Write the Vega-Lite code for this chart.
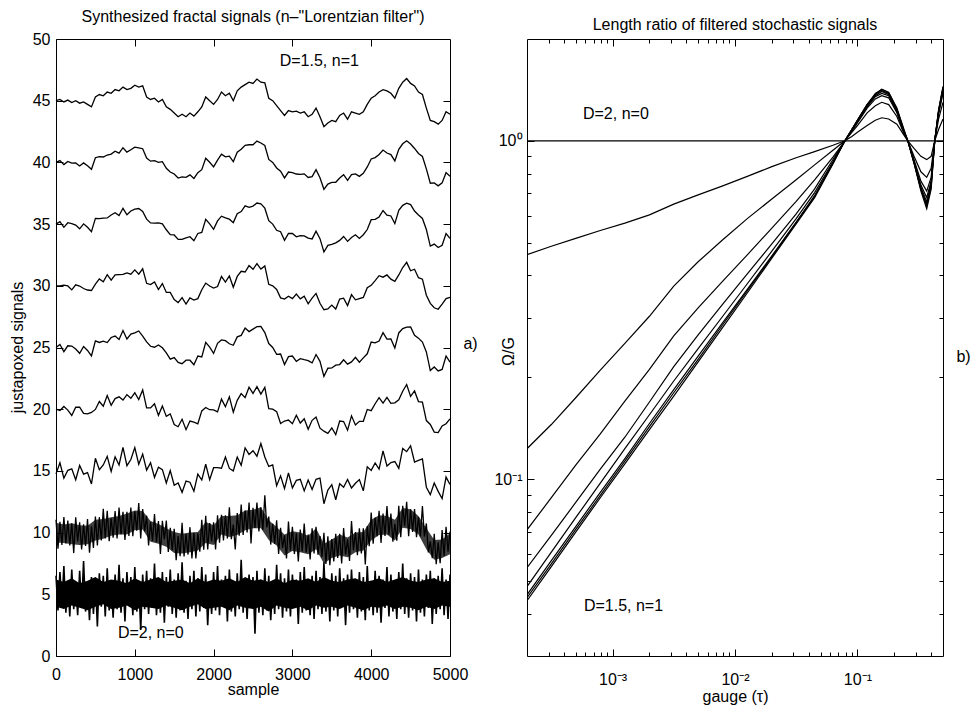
{
"$schema":"https://vega.github.io/schema/vega-lite/v6.json",
"background":"white",
"padding":{"left":8,"top":8,"right":2,"bottom":2},
"spacing":15,
"config":{
 "font":"Liberation Sans",
 "view":{"stroke":"#000","strokeWidth":1},
 "axis":{"domain":false,"grid":false,"tickColor":"#000","tickWidth":1,"labelColor":"#000","titleColor":"#000","labelFont":"Liberation Sans","titleFont":"Liberation Sans","labelFontSize":16,"titleFontSize":16,"titleFontWeight":"normal","labelFlush":false,"labelOverlap":false,"labelBound":false},
 "title":{"font":"Liberation Sans","fontSize":16,"fontWeight":"normal","color":"#000"},
 "text":{"font":"Liberation Sans","fontSize":16,"color":"#000"}
},
"datasets":{
"sig":[
{"x":0,"s45":45.0,"s40":40.0,"s35":35.0,"s30":30.0,"s25":25.0,"s20":20.0,"s15":14.76},
{"x":50,"s45":45.1,"s40":40.15,"s35":35.2,"s30":30.0,"s25":25.25,"s20":19.9,"s15":15.66},
{"x":100,"s45":44.9,"s40":39.82,"s35":34.74,"s30":30.06,"s25":24.66,"s20":20.22,"s15":14.42},
{"x":150,"s45":45.05,"s40":40.08,"s35":35.11,"s30":29.99,"s25":25.14,"s20":19.93,"s15":15.05},
{"x":200,"s45":44.85,"s40":39.94,"s35":35.03,"s30":29.67,"s25":25.12,"s20":19.49,"s15":15.17},
{"x":250,"s45":45.0,"s40":39.96,"s35":34.92,"s30":30.08,"s25":24.88,"s20":20.16,"s15":14.28},
{"x":300,"s45":44.8,"s40":39.71,"s35":34.62,"s30":29.98,"s25":24.53,"s20":20.16,"s15":15.44},
{"x":350,"s45":44.9,"s40":39.96,"s35":35.02,"s30":29.78,"s25":25.08,"s20":19.66,"s15":14.74},
{"x":400,"s45":44.7,"s40":39.72,"s35":34.74,"s30":29.66,"s25":24.76,"s20":19.62,"s15":14.86},
{"x":450,"s45":44.5,"s40":39.44,"s35":34.38,"s30":29.62,"s25":24.32,"s20":19.74,"s15":13.94},
{"x":500,"s45":45.3,"s40":40.38,"s35":35.46,"s30":30.14,"s25":25.54,"s20":19.98,"s15":16.02},
{"x":550,"s45":45.5,"s40":40.47,"s35":35.44,"s30":30.56,"s25":25.41,"s20":20.62,"s15":15.1},
{"x":600,"s45":45.4,"s40":40.44,"s35":35.48,"s30":30.32,"s25":25.52,"s20":20.24,"s15":15.48},
{"x":650,"s45":45.7,"s40":40.6,"s35":35.5,"s30":30.9,"s25":25.4,"s20":21.1,"s15":16.18},
{"x":700,"s45":45.6,"s40":40.67,"s35":35.74,"s30":30.46,"s25":25.81,"s20":20.32,"s15":14.96},
{"x":750,"s45":45.9,"s40":40.91,"s35":35.92,"s30":30.88,"s25":25.93,"s20":20.86,"s15":16.14},
{"x":800,"s45":45.8,"s40":40.75,"s35":35.7,"s30":30.9,"s25":25.65,"s20":21.0,"s15":15.48},
{"x":850,"s45":46.1,"s40":41.19,"s35":36.28,"s30":30.92,"s25":26.37,"s20":20.74,"s15":16.9},
{"x":900,"s45":45.9,"s40":40.83,"s35":35.76,"s30":31.04,"s25":25.69,"s20":21.18,"s15":15.42},
{"x":950,"s45":46.0,"s40":41.03,"s35":36.06,"s30":30.94,"s25":26.09,"s20":20.88,"s15":15.92},
{"x":1000,"s45":46.25,"s40":41.23,"s35":36.21,"s30":31.29,"s25":26.19,"s20":21.33,"s15":16.89},
{"x":1050,"s45":46.1,"s40":41.18,"s35":36.26,"s30":30.94,"s25":26.34,"s20":20.78,"s15":15.54},
{"x":1100,"s45":46.2,"s40":41.11,"s35":36.02,"s30":31.38,"s25":25.93,"s20":21.56,"s15":16.36},
{"x":1150,"s45":45.3,"s40":40.35,"s35":35.4,"s30":30.2,"s25":25.45,"s20":20.1,"s15":15.06},
{"x":1200,"s45":45.1,"s40":40.1,"s35":35.1,"s30":30.1,"s25":25.1,"s20":20.1,"s15":15.66},
{"x":1250,"s45":45.2,"s40":40.14,"s35":35.08,"s30":30.32,"s25":25.02,"s20":20.44,"s15":14.48},
{"x":1300,"s45":44.9,"s40":40.0,"s35":35.1,"s30":29.7,"s25":25.2,"s20":19.5,"s15":15.3},
{"x":1350,"s45":45.1,"s40":40.06,"s35":35.02,"s30":30.18,"s25":24.98,"s20":20.26,"s15":15.1},
{"x":1400,"s45":44.5,"s40":39.52,"s35":34.54,"s30":29.46,"s25":24.56,"s20":19.42,"s15":14.02},
{"x":1450,"s45":44.3,"s40":39.22,"s35":34.14,"s30":29.46,"s25":24.06,"s20":19.62,"s15":15.02},
{"x":1500,"s45":44.0,"s40":39.06,"s35":34.12,"s30":28.88,"s25":24.18,"s20":18.76,"s15":13.84},
{"x":1550,"s45":43.7,"s40":38.73,"s35":33.76,"s30":28.64,"s25":23.79,"s20":18.58,"s15":14.02},
{"x":1600,"s45":43.9,"s40":38.83,"s35":33.76,"s30":29.04,"s25":23.69,"s20":19.18,"s15":13.26},
{"x":1650,"s45":43.7,"s40":38.79,"s35":33.88,"s30":28.52,"s25":23.97,"s20":18.34,"s15":14.18},
{"x":1700,"s45":44.0,"s40":38.99,"s35":33.98,"s30":29.02,"s25":23.97,"s20":19.04,"s15":14.08},
{"x":1750,"s45":43.75,"s40":38.7,"s35":33.65,"s30":28.85,"s25":23.6,"s20":18.95,"s15":13.35},
{"x":1800,"s45":44.1,"s40":39.17,"s35":34.24,"s30":28.96,"s25":24.31,"s20":18.82,"s15":14.74},
{"x":1850,"s45":44.5,"s40":39.41,"s35":34.32,"s30":29.68,"s25":24.23,"s20":19.86,"s15":14.26},
{"x":1900,"s45":45.3,"s40":40.34,"s35":35.38,"s30":30.22,"s25":25.42,"s20":20.14,"s15":15.54},
{"x":1950,"s45":45.0,"s40":40.01,"s35":35.02,"s30":29.98,"s25":25.03,"s20":19.96,"s15":14.28},
{"x":2000,"s45":44.7,"s40":39.64,"s35":34.58,"s30":29.82,"s25":24.52,"s20":19.94,"s15":15.26},
{"x":2050,"s45":45.1,"s40":40.18,"s35":35.26,"s30":29.94,"s25":25.34,"s20":19.78,"s15":15.26},
{"x":2100,"s45":45.7,"s40":40.67,"s35":35.64,"s30":30.76,"s25":25.61,"s20":20.82,"s15":15.22},
{"x":2150,"s45":45.4,"s40":40.45,"s35":35.5,"s30":30.3,"s25":25.55,"s20":20.2,"s15":16.12},
{"x":2200,"s45":45.6,"s40":40.5,"s35":35.4,"s30":30.8,"s25":25.3,"s20":21.0,"s15":15.2},
{"x":2250,"s45":45.0,"s40":40.06,"s35":35.12,"s30":29.88,"s25":25.18,"s20":19.76,"s15":15.0},
{"x":2300,"s45":45.8,"s40":40.82,"s35":35.84,"s30":30.76,"s25":25.86,"s20":20.72,"s15":16.12},
{"x":2350,"s45":46.1,"s40":41.06,"s35":36.02,"s30":31.18,"s25":25.98,"s20":21.26,"s15":15.46},
{"x":2400,"s45":46.3,"s40":41.39,"s35":36.48,"s30":31.12,"s25":26.57,"s20":20.94,"s15":16.86},
{"x":2450,"s45":46.5,"s40":41.43,"s35":36.36,"s30":31.64,"s25":26.29,"s20":21.78,"s15":16.34},
{"x":2500,"s45":46.4,"s40":41.43,"s35":36.46,"s30":31.34,"s25":26.49,"s20":21.28,"s15":16.64},
{"x":2550,"s45":46.75,"s40":41.73,"s35":36.71,"s30":31.79,"s25":26.69,"s20":21.83,"s15":16.19},
{"x":2600,"s45":46.5,"s40":41.57,"s35":36.64,"s30":31.36,"s25":26.71,"s20":21.22,"s15":17.22},
{"x":2650,"s45":46.45,"s40":41.37,"s35":36.29,"s30":31.61,"s25":26.21,"s20":21.77,"s15":16.13},
{"x":2700,"s45":45.2,"s40":40.24,"s35":35.28,"s30":30.12,"s25":25.32,"s20":20.04,"s15":15.36},
{"x":2750,"s45":45.0,"s40":40.0,"s35":35.0,"s30":30.0,"s25":25.0,"s20":20.0,"s15":15.48},
{"x":2800,"s45":44.6,"s40":39.55,"s35":34.5,"s30":29.7,"s25":24.45,"s20":19.8,"s15":13.8},
{"x":2850,"s45":44.2,"s40":39.29,"s35":34.38,"s30":29.02,"s25":24.47,"s20":18.84,"s15":14.6},
{"x":2900,"s45":43.8,"s40":38.74,"s35":33.68,"s30":28.92,"s25":23.62,"s20":19.04,"s15":13.56},
{"x":2950,"s45":44.2,"s40":39.22,"s35":34.24,"s30":29.16,"s25":24.26,"s20":19.12,"s15":14.84},
{"x":3000,"s45":44.1,"s40":39.17,"s35":34.24,"s30":28.96,"s25":24.31,"s20":18.82,"s15":13.62},
{"x":3050,"s45":44.15,"s40":39.06,"s35":33.97,"s30":29.33,"s25":23.88,"s20":19.51,"s15":14.23},
{"x":3100,"s45":44.0,"s40":39.03,"s35":34.06,"s30":28.94,"s25":24.09,"s20":18.88,"s15":14.32},
{"x":3150,"s45":44.1,"s40":39.07,"s35":34.04,"s30":29.16,"s25":24.01,"s20":19.22,"s15":13.38},
{"x":3200,"s45":43.7,"s40":38.78,"s35":33.86,"s30":28.54,"s25":23.94,"s20":18.38,"s15":14.26},
{"x":3250,"s45":43.9,"s40":38.85,"s35":33.8,"s30":29.0,"s25":23.75,"s20":19.1,"s15":13.5},
{"x":3300,"s45":44.4,"s40":39.41,"s35":34.42,"s30":29.38,"s25":24.43,"s20":19.36,"s15":14.32},
{"x":3350,"s45":43.7,"s40":38.76,"s35":33.82,"s30":28.58,"s25":23.88,"s20":18.46,"s15":14.42},
{"x":3400,"s45":42.9,"s40":37.82,"s35":32.74,"s30":28.06,"s25":22.66,"s20":18.22,"s15":12.34},
{"x":3450,"s45":43.2,"s40":38.24,"s35":33.28,"s30":28.12,"s25":23.32,"s20":18.04,"s15":13.44},
{"x":3500,"s45":43.4,"s40":38.38,"s35":33.36,"s30":28.44,"s25":23.34,"s20":18.48,"s15":13.88},
{"x":3550,"s45":43.3,"s40":38.39,"s35":33.48,"s30":28.12,"s25":23.57,"s20":17.94,"s15":12.66},
{"x":3600,"s45":43.8,"s40":38.74,"s35":33.68,"s30":28.92,"s25":23.62,"s20":19.04,"s15":13.96},
{"x":3650,"s45":44.0,"s40":39.0,"s35":34.0,"s30":29.0,"s25":24.0,"s20":19.0,"s15":13.68},
{"x":3700,"s45":43.5,"s40":38.55,"s35":33.6,"s30":28.4,"s25":23.65,"s20":18.3,"s15":14.3},
{"x":3750,"s45":44.1,"s40":39.01,"s35":33.92,"s30":29.28,"s25":23.83,"s20":19.46,"s15":13.62},
{"x":3800,"s45":44.0,"s40":39.07,"s35":34.14,"s30":28.86,"s25":24.21,"s20":18.72,"s15":14.0},
{"x":3850,"s45":43.9,"s40":38.87,"s35":33.84,"s30":28.96,"s25":23.81,"s20":19.02,"s15":14.3},
{"x":3900,"s45":44.1,"s40":39.12,"s35":34.14,"s30":29.06,"s25":24.16,"s20":19.02,"s15":13.38},
{"x":3950,"s45":44.7,"s40":39.63,"s35":34.56,"s30":29.84,"s25":24.49,"s20":19.98,"s15":15.34},
{"x":4000,"s45":45.2,"s40":40.28,"s35":35.36,"s30":30.04,"s25":25.44,"s20":19.88,"s15":15.04},
{"x":4050,"s45":45.4,"s40":40.39,"s35":35.38,"s30":30.42,"s25":25.37,"s20":20.44,"s15":15.64},
{"x":4100,"s45":45.7,"s40":40.64,"s35":35.58,"s30":30.82,"s25":25.52,"s20":20.94,"s15":15.14},
{"x":4150,"s45":45.9,"s40":41.0,"s35":36.1,"s30":30.7,"s25":26.2,"s20":20.5,"s15":16.62},
{"x":4200,"s45":45.8,"s40":40.76,"s35":35.72,"s30":30.88,"s25":25.68,"s20":20.96,"s15":15.4},
{"x":4250,"s45":45.6,"s40":40.63,"s35":35.66,"s30":30.54,"s25":25.69,"s20":20.48,"s15":15.68},
{"x":4300,"s45":45.2,"s40":40.12,"s35":35.04,"s30":30.36,"s25":24.96,"s20":20.52,"s15":15.76},
{"x":4350,"s45":46.0,"s40":41.06,"s35":36.12,"s30":30.88,"s25":26.18,"s20":20.76,"s15":15.2},
{"x":4400,"s45":46.5,"s40":41.51,"s35":36.52,"s30":31.48,"s25":26.53,"s20":21.46,"s15":16.82},
{"x":4450,"s45":46.8,"s40":41.75,"s35":36.7,"s30":31.9,"s25":26.65,"s20":22.0,"s15":16.56},
{"x":4500,"s45":46.4,"s40":41.49,"s35":36.58,"s30":31.22,"s25":26.67,"s20":21.04,"s15":17.04},
{"x":4550,"s45":46.2,"s40":41.13,"s35":36.06,"s30":31.34,"s25":25.99,"s20":21.48,"s15":15.72},
{"x":4600,"s45":45.7,"s40":40.72,"s35":35.74,"s30":30.66,"s25":25.76,"s20":20.62,"s15":15.86},
{"x":4650,"s45":45.5,"s40":40.48,"s35":35.46,"s30":30.54,"s25":25.44,"s20":20.58,"s15":15.98},
{"x":4700,"s45":44.4,"s40":39.48,"s35":34.56,"s30":29.24,"s25":24.64,"s20":19.08,"s15":13.68},
{"x":4750,"s45":43.4,"s40":38.31,"s35":33.22,"s30":28.58,"s25":23.13,"s20":18.76,"s15":13.08},
{"x":4800,"s45":43.3,"s40":38.34,"s35":33.38,"s30":28.22,"s25":23.42,"s20":18.14,"s15":14.02},
{"x":4850,"s45":43.1,"s40":38.1,"s35":33.1,"s30":28.1,"s25":23.1,"s20":18.1,"s15":13.34},
{"x":4900,"s45":43.4,"s40":38.34,"s35":33.28,"s30":28.52,"s25":23.22,"s20":18.64,"s15":12.76},
{"x":4950,"s45":44.1,"s40":39.17,"s35":34.24,"s30":28.96,"s25":24.31,"s20":18.82,"s15":14.5},
{"x":5000,"s45":43.9,"s40":38.87,"s35":33.84,"s30":29.06,"s25":23.81,"s20":19.22,"s15":13.9}
],
"noisy":[
{"x":0,"s10":11.04,"s05":6.5},{"x":25,"s10":8.7,"s05":3.7},{"x":50,"s10":10.88,"s05":6.8},{"x":75,"s10":9.0,"s05":4.1},{"x":100,"s10":11.27,"s05":7.3},
{"x":125,"s10":9.12,"s05":3.5},{"x":150,"s10":10.98,"s05":6.1},{"x":175,"s10":8.96,"s05":3.2},{"x":200,"s10":10.75,"s05":7.0},{"x":225,"s10":8.34,"s05":3.8},
{"x":250,"s10":11.24,"s05":5.9},{"x":275,"s10":9.28,"s05":3.3},{"x":300,"s10":10.84,"s05":6.9},{"x":325,"s10":8.63,"s05":3.9},{"x":350,"s10":10.68,"s05":7.7},
{"x":375,"s10":8.92,"s05":3.6},{"x":400,"s10":11.1,"s05":6.0},{"x":425,"s10":8.37,"s05":2.9},{"x":450,"s10":10.51,"s05":6.4},{"x":475,"s10":8.75,"s05":3.4},
{"x":500,"s10":11.3,"s05":6.2},{"x":525,"s10":8.96,"s05":2.4},{"x":550,"s10":11.25,"s05":6.7},{"x":575,"s10":9.36,"s05":4.0},{"x":600,"s10":11.93,"s05":6.5},
{"x":625,"s10":9.52,"s05":3.2},{"x":650,"s10":11.77,"s05":7.1},{"x":675,"s10":9.3,"s05":3.7},{"x":700,"s10":11.15,"s05":5.8},{"x":725,"s10":9.59,"s05":3.1},
{"x":750,"s10":11.74,"s05":6.6},{"x":775,"s10":9.53,"s05":3.8},{"x":800,"s10":12.03,"s05":7.4},{"x":825,"s10":9.88,"s05":3.5},{"x":850,"s10":11.68,"s05":6.3},
{"x":875,"s10":9.4,"s05":2.8},{"x":900,"s10":11.68,"s05":6.8},{"x":925,"s10":9.72,"s05":4.1},{"x":950,"s10":12.04,"s05":6.4},{"x":975,"s10":9.7,"s05":3.3},
{"x":1000,"s10":11.72,"s05":7.2},{"x":1025,"s10":10.15,"s05":3.6},{"x":1050,"s10":12.4,"s05":6.1},{"x":1075,"s10":9.53,"s05":2.1},{"x":1100,"s10":11.91,"s05":6.6},
{"x":1125,"s10":10.09,"s05":3.8},{"x":1150,"s10":11.37,"s05":6.9},{"x":1175,"s10":8.96,"s05":3.4},{"x":1200,"s10":10.88,"s05":6.3},{"x":1225,"s10":9.32,"s05":3.9},
{"x":1250,"s10":11.5,"s05":7.5},{"x":1275,"s10":9.22,"s05":3.3},{"x":1300,"s10":10.94,"s05":6.0},{"x":1325,"s10":8.27,"s05":3.5},{"x":1350,"s10":10.95,"s05":6.8},
{"x":1375,"s10":9.45,"s05":2.7},{"x":1400,"s10":10.97,"s05":6.4},{"x":1425,"s10":8.43,"s05":4.0},{"x":1450,"s10":10.38,"s05":7.0},{"x":1475,"s10":8.55,"s05":3.4},
{"x":1500,"s10":10.3,"s05":6.2},{"x":1525,"s10":7.77,"s05":3.1},{"x":1550,"s10":9.72,"s05":6.7},{"x":1575,"s10":8.09,"s05":3.7},{"x":1600,"s10":10.79,"s05":7.6},
{"x":1625,"s10":8.06,"s05":3.5},{"x":1650,"s10":9.91,"s05":6.1},{"x":1675,"s10":8.22,"s05":3.0},{"x":1700,"s10":10.44,"s05":6.5},{"x":1725,"s10":7.9,"s05":3.8},
{"x":1750,"s10":9.98,"s05":6.9},{"x":1775,"s10":7.9,"s05":3.2},{"x":1800,"s10":9.95,"s05":6.3},{"x":1825,"s10":8.45,"s05":3.6},{"x":1850,"s10":11.03,"s05":7.2},
{"x":1875,"s10":8.62,"s05":3.9},{"x":1900,"s10":11.37,"s05":6.6},{"x":1925,"s10":8.64,"s05":2.5},{"x":1950,"s10":10.78,"s05":6.0},{"x":1975,"s10":9.28,"s05":3.4},
{"x":2000,"s10":10.84,"s05":6.8},{"x":2025,"s10":8.63,"s05":3.7},{"x":2050,"s10":11.4,"s05":7.3},{"x":2075,"s10":9.19,"s05":3.3},{"x":2100,"s10":11.45,"s05":6.2},
{"x":2125,"s10":9.36,"s05":4.0},{"x":2150,"s10":11.4,"s05":6.5},{"x":2175,"s10":9.52,"s05":2.8},{"x":2200,"s10":12.06,"s05":7.0},{"x":2225,"s10":9.46,"s05":3.6},
{"x":2250,"s10":10.65,"s05":6.1},{"x":2275,"s10":8.63,"s05":3.2},{"x":2300,"s10":11.58,"s05":6.7},{"x":2325,"s10":9.75,"s05":3.8},{"x":2350,"s10":12.27,"s05":7.8},
{"x":2375,"s10":9.8,"s05":3.5},{"x":2400,"s10":11.78,"s05":6.3},{"x":2425,"s10":10.02,"s05":3.0},{"x":2450,"s10":12.44,"s05":6.6},{"x":2475,"s10":9.12,"s05":3.9},
{"x":2500,"s10":12.01,"s05":6.4},{"x":2525,"s10":10.38,"s05":1.8},{"x":2550,"s10":12.44,"s05":6.9},{"x":2575,"s10":10.1,"s05":3.5},{"x":2600,"s10":12.05,"s05":6.2},
{"x":2625,"s10":10.22,"s05":3.3},{"x":2650,"s10":13.02,"s05":7.1},{"x":2675,"s10":10.42,"s05":3.7},{"x":2700,"s10":11.3,"s05":6.5},{"x":2725,"s10":9.03,"s05":2.9},
{"x":2750,"s10":10.72,"s05":6.0},{"x":2775,"s10":9.09,"s05":3.4},{"x":2800,"s10":11.0,"s05":7.4},{"x":2825,"s10":8.27,"s05":3.8},{"x":2850,"s10":10.38,"s05":6.7},
{"x":2875,"s10":8.75,"s05":3.1},{"x":2900,"s10":9.78,"s05":6.3},{"x":2925,"s10":7.9,"s05":3.6},{"x":2950,"s10":10.9,"s05":7.0},{"x":2975,"s10":8.55,"s05":3.2},
{"x":3000,"s10":10.47,"s05":6.6},{"x":3025,"s10":8.26,"s05":3.9},{"x":3050,"s10":9.95,"s05":6.2},{"x":3075,"s10":7.67,"s05":2.6},{"x":3100,"s10":10.24,"s05":6.8},
{"x":3125,"s10":8.48,"s05":3.5},{"x":3150,"s10":10.73,"s05":7.2},{"x":3175,"s10":8.39,"s05":3.7},{"x":3200,"s10":9.85,"s05":6.0},{"x":3225,"s10":7.83,"s05":3.3},
{"x":3250,"s10":10.34,"s05":6.5},{"x":3275,"s10":8.32,"s05":3.0},{"x":3300,"s10":10.48,"s05":6.9},{"x":3325,"s10":8.2,"s05":3.8},{"x":3350,"s10":9.72,"s05":6.4},
{"x":3375,"s10":8.02,"s05":3.4},{"x":3400,"s10":9.99,"s05":7.6},{"x":3425,"s10":7.45,"s05":3.6},{"x":3450,"s10":9.7,"s05":6.1},{"x":3475,"s10":7.36,"s05":2.8},
{"x":3500,"s10":9.48,"s05":6.7},{"x":3525,"s10":7.66,"s05":3.7},{"x":3550,"s10":9.9,"s05":6.5},{"x":3575,"s10":7.95,"s05":3.2},{"x":3600,"s10":9.91,"s05":7.1},
{"x":3625,"s10":7.5,"s05":4.0},{"x":3650,"s10":10.37,"s05":6.3},{"x":3675,"s10":8.22,"s05":2.5},{"x":3700,"s10":9.45,"s05":6.6},{"x":3725,"s10":7.7,"s05":3.5},
{"x":3750,"s10":10.93,"s05":7.0},{"x":3775,"s10":8.58,"s05":3.8},{"x":3800,"s10":10.05,"s05":6.2},{"x":3825,"s10":8.16,"s05":3.1},{"x":3850,"s10":10.34,"s05":6.8},
{"x":3875,"s10":8.32,"s05":3.6},{"x":3900,"s10":10.34,"s05":6.4},{"x":3925,"s10":7.41,"s05":2.9},{"x":3950,"s10":10.52,"s05":7.3},{"x":3975,"s10":8.89,"s05":3.7},
{"x":4000,"s10":11.63,"s05":6.1},{"x":4025,"s10":9.1,"s05":3.3},{"x":4050,"s10":11.21,"s05":6.9},{"x":4075,"s10":9.71,"s05":3.5},{"x":4100,"s10":11.77,"s05":6.5},
{"x":4125,"s10":9.17,"s05":2.7},{"x":4150,"s10":11.55,"s05":6.2},{"x":4175,"s10":9.72,"s05":3.9},{"x":4200,"s10":12.16,"s05":7.2},{"x":4225,"s10":9.82,"s05":3.2},
{"x":4250,"s10":11.54,"s05":6.6},{"x":4275,"s10":9.26,"s05":3.6},{"x":4300,"s10":10.72,"s05":6.0},{"x":4325,"s10":9.35,"s05":3.0},{"x":4350,"s10":12.17,"s05":6.8},
{"x":4375,"s10":9.63,"s05":3.8},{"x":4400,"s10":12.18,"s05":7.5},{"x":4425,"s10":10.55,"s05":3.4},{"x":4450,"s10":12.5,"s05":6.3},{"x":4475,"s10":9.71,"s05":3.1},
{"x":4500,"s10":11.88,"s05":6.7},{"x":4525,"s10":10.06,"s05":3.7},{"x":4550,"s10":11.91,"s05":6.4},{"x":4575,"s10":9.63,"s05":2.8},{"x":4600,"s10":11.25,"s05":7.0},
{"x":4625,"s10":9.69,"s05":3.5},{"x":4650,"s10":12.16,"s05":6.2},{"x":4675,"s10":9.68,"s05":3.2},{"x":4700,"s10":10.74,"s05":6.6},{"x":4725,"s10":8.4,"s05":3.9},
{"x":4750,"s10":9.29,"s05":6.9},{"x":4775,"s10":7.92,"s05":2.6},{"x":4800,"s10":9.9,"s05":6.3},{"x":4825,"s10":7.43,"s05":3.4},{"x":4850,"s10":9.22,"s05":6.5},
{"x":4875,"s10":7.52,"s05":3.8},{"x":4900,"s10":10.2,"s05":7.1},{"x":4925,"s10":8.11,"s05":3.3},{"x":4950,"s10":10.47,"s05":6.2},{"x":4975,"s10":8.45,"s05":3.0},
{"x":5000,"s10":10.08,"s05":6.6}
],
"bands":[
{"x":0,"lo5":4.0,"hi5":6.2,"lo10":9.2,"hi10":10.8},{"x":100,"lo5":3.8,"hi5":6.0,"lo10":9.15,"hi10":10.65},{"x":200,"lo5":4.1,"hi5":6.3,"lo10":9.05,"hi10":10.75},
{"x":300,"lo5":3.9,"hi5":5.9,"lo10":9.0,"hi10":10.6},{"x":400,"lo5":3.7,"hi5":6.1,"lo10":9.05,"hi10":10.55},{"x":500,"lo5":4.0,"hi5":6.4,"lo10":9.35,"hi10":11.05},
{"x":600,"lo5":4.2,"hi5":6.0,"lo10":9.5,"hi10":11.1},{"x":700,"lo5":3.8,"hi5":6.2,"lo10":9.75,"hi10":11.25},{"x":800,"lo5":3.9,"hi5":6.1,"lo10":9.85,"hi10":11.35},
{"x":900,"lo5":4.1,"hi5":5.9,"lo10":9.85,"hi10":11.55},{"x":1000,"lo5":3.7,"hi5":6.3,"lo10":10.2,"hi10":11.8},{"x":1100,"lo5":4.0,"hi5":6.0,"lo10":10.25,"hi10":11.75},
{"x":1200,"lo5":3.9,"hi5":6.2,"lo10":9.25,"hi10":10.95},{"x":1300,"lo5":3.8,"hi5":6.4,"lo10":9.1,"hi10":10.7},{"x":1400,"lo5":4.1,"hi5":6.0,"lo10":8.85,"hi10":10.35},
{"x":1500,"lo5":3.9,"hi5":6.1,"lo10":8.35,"hi10":10.05},{"x":1600,"lo5":3.7,"hi5":6.2,"lo10":8.3,"hi10":9.9},{"x":1700,"lo5":4.0,"hi5":5.9,"lo10":8.4,"hi10":10.0},
{"x":1800,"lo5":4.2,"hi5":6.3,"lo10":8.55,"hi10":10.05},{"x":1900,"lo5":3.8,"hi5":6.0,"lo10":9.15,"hi10":10.85},{"x":2000,"lo5":3.9,"hi5":6.2,"lo10":9.0,"hi10":10.6},
{"x":2100,"lo5":4.0,"hi5":6.1,"lo10":9.85,"hi10":11.35},{"x":2200,"lo5":3.7,"hi5":6.3,"lo10":9.65,"hi10":11.35},{"x":2300,"lo5":4.1,"hi5":6.0,"lo10":9.8,"hi10":11.4},
{"x":2400,"lo5":3.9,"hi5":6.4,"lo10":10.2,"hi10":11.8},{"x":2500,"lo5":3.8,"hi5":6.1,"lo10":10.35,"hi10":11.85},{"x":2600,"lo5":4.0,"hi5":6.2,"lo10":10.35,"hi10":12.05},
{"x":2700,"lo5":3.6,"hi5":6.0,"lo10":9.4,"hi10":11.0},{"x":2800,"lo5":4.1,"hi5":6.3,"lo10":8.95,"hi10":10.45},{"x":2900,"lo5":3.9,"hi5":5.9,"lo10":8.15,"hi10":9.85},
{"x":3000,"lo5":3.8,"hi5":6.2,"lo10":8.5,"hi10":10.1},{"x":3100,"lo5":4.0,"hi5":6.1,"lo10":8.4,"hi10":10.0},{"x":3200,"lo5":3.7,"hi5":6.3,"lo10":8.25,"hi10":9.75},
{"x":3300,"lo5":4.1,"hi5":6.0,"lo10":8.65,"hi10":10.35},{"x":3400,"lo5":3.9,"hi5":6.4,"lo10":7.5,"hi10":9.1},{"x":3500,"lo5":4.0,"hi5":6.1,"lo10":7.95,"hi10":9.45},
{"x":3600,"lo5":3.8,"hi5":6.0,"lo10":8.15,"hi10":9.85},{"x":3700,"lo5":4.1,"hi5":6.2,"lo10":8.0,"hi10":9.6},{"x":3800,"lo5":3.9,"hi5":6.3,"lo10":8.4,"hi10":10.0},
{"x":3900,"lo5":3.7,"hi5":6.0,"lo10":8.55,"hi10":10.05},{"x":4000,"lo5":4.0,"hi5":6.1,"lo10":9.35,"hi10":11.05},{"x":4100,"lo5":3.9,"hi5":6.3,"lo10":9.8,"hi10":11.4},
{"x":4200,"lo5":4.1,"hi5":6.0,"lo10":9.85,"hi10":11.35},{"x":4300,"lo5":3.8,"hi5":6.2,"lo10":9.35,"hi10":11.05},{"x":4400,"lo5":4.0,"hi5":6.4,"lo10":10.4,"hi10":12.0},
{"x":4500,"lo5":3.9,"hi5":6.1,"lo10":10.3,"hi10":11.9},{"x":4600,"lo5":3.7,"hi5":6.0,"lo10":9.85,"hi10":11.35},{"x":4700,"lo5":4.0,"hi5":6.2,"lo10":8.65,"hi10":10.35},
{"x":4800,"lo5":3.8,"hi5":6.3,"lo10":7.8,"hi10":9.4},{"x":4900,"lo5":4.1,"hi5":6.0,"lo10":7.95,"hi10":9.45},{"x":5000,"lo5":4.0,"hi5":6.1,"lo10":8.25,"hi10":9.95}
],
"curves":[
{"x":0.0002,"A":1,"B":0.461,"C":0.123,"D":0.0708,"E":0.0547,"F":0.0481,"G":0.0455,"H":0.0446,"I":0.0437},
{"x":0.000316,"A":1,"B":0.488,"C":0.145,"D":0.0881,"E":0.0682,"F":0.0608,"G":0.0574,"H":0.0562,"I":0.0551},
{"x":0.0005,"A":1,"B":0.515,"C":0.174,"D":0.110,"E":0.0853,"F":0.0769,"G":0.0724,"H":0.0710,"I":0.0697},
{"x":0.000794,"A":1,"B":0.543,"C":0.210,"D":0.136,"E":0.107,"F":0.0973,"G":0.0914,"H":0.0895,"I":0.0881},
{"x":0.00126,"A":1,"B":0.571,"C":0.252,"D":0.170,"E":0.133,"F":0.123,"G":0.115,"H":0.113,"I":0.111},
{"x":0.002,"A":1,"B":0.604,"C":0.303,"D":0.211,"E":0.169,"F":0.155,"G":0.146,"H":0.143,"I":0.140},
{"x":0.00316,"A":1,"B":0.650,"C":0.372,"D":0.265,"E":0.215,"F":0.195,"G":0.184,"H":0.180,"I":0.176},
{"x":0.005,"A":1,"B":0.692,"C":0.439,"D":0.321,"E":0.267,"F":0.243,"G":0.231,"H":0.226,"I":0.222},
{"x":0.00794,"A":1,"B":0.736,"C":0.510,"D":0.385,"E":0.329,"F":0.303,"G":0.290,"H":0.286,"I":0.281},
{"x":0.0126,"A":1,"B":0.785,"C":0.589,"D":0.460,"E":0.404,"F":0.378,"G":0.364,"H":0.360,"I":0.355},
{"x":0.02,"A":1,"B":0.839,"C":0.673,"D":0.552,"E":0.496,"F":0.472,"G":0.457,"H":0.454,"I":0.450},
{"x":0.0316,"A":1,"B":0.891,"C":0.767,"D":0.662,"E":0.608,"F":0.589,"G":0.575,"H":0.573,"I":0.568},
{"x":0.0447,"A":1,"B":0.929,"C":0.849,"D":0.767,"E":0.721,"F":0.703,"G":0.689,"H":0.684,"I":0.679},
{"x":0.0631,"A":1,"B":0.970,"C":0.938,"D":0.895,"E":0.881,"F":0.867,"G":0.863,"H":0.859,"I":0.855},
{"x":0.079,"A":1,"B":1,"C":1,"D":1,"E":1,"F":1,"G":1,"H":1,"I":1},
{"x":0.09,"A":1,"B":1.03,"C":1.06,"D":1.07,"E":1.07,"F":1.08,"G":1.08,"H":1.08,"I":1.08},
{"x":0.10,"A":1,"B":1.06,"C":1.11,"D":1.13,"E":1.14,"F":1.14,"G":1.15,"H":1.15,"I":1.15},
{"x":0.12,"A":1,"B":1.11,"C":1.21,"D":1.25,"E":1.26,"F":1.27,"G":1.28,"H":1.28,"I":1.28},
{"x":0.14,"A":1,"B":1.15,"C":1.27,"D":1.33,"E":1.35,"F":1.36,"G":1.37,"H":1.37,"I":1.38},
{"x":0.158,"A":1,"B":1.17,"C":1.30,"D":1.36,"E":1.38,"F":1.40,"G":1.41,"H":1.42,"I":1.42},
{"x":0.18,"A":1,"B":1.16,"C":1.28,"D":1.34,"E":1.36,"F":1.37,"G":1.38,"H":1.39,"I":1.39},
{"x":0.21,"A":1,"B":1.12,"C":1.18,"D":1.21,"E":1.22,"F":1.23,"G":1.24,"H":1.24,"I":1.25},
{"x":0.24,"A":1,"B":1.04,"C":1.05,"D":1.06,"E":1.06,"F":1.07,"G":1.07,"H":1.07,"I":1.08},
{"x":0.258,"A":1,"B":1,"C":1,"D":1,"E":1,"F":1,"G":1,"H":1,"I":1},
{"x":0.29,"A":1,"B":0.95,"C":0.90,"D":0.88,"E":0.87,"F":0.87,"G":0.86,"H":0.86,"I":0.86},
{"x":0.33,"A":1,"B":0.90,"C":0.81,"D":0.76,"E":0.74,"F":0.73,"G":0.72,"H":0.72,"I":0.71},
{"x":0.368,"A":1,"B":0.88,"C":0.78,"D":0.71,"E":0.68,"F":0.66,"G":0.65,"H":0.64,"I":0.63},
{"x":0.40,"A":1,"B":0.90,"C":0.83,"D":0.78,"E":0.76,"F":0.75,"G":0.74,"H":0.73,"I":0.72},
{"x":0.428,"A":1,"B":1,"C":1,"D":1,"E":1,"F":1,"G":1,"H":1,"I":1},
{"x":0.46,"A":1,"B":1.08,"C":1.16,"D":1.20,"E":1.21,"F":1.22,"G":1.22,"H":1.23,"I":1.23},
{"x":0.5,"A":1,"B":1.16,"C":1.30,"D":1.38,"E":1.40,"F":1.42,"G":1.43,"H":1.44,"I":1.45}
]
},
"hconcat":[
{
 "width":394,"height":617,
 "title":{"text":"Synthesized fractal signals (n–\"Lorentzian filter\")","anchor":"middle","frame":"group","baseline":"alphabetic","offset":-7},
 "layer":[
  {
   "data":{"name":"sig"},
   "transform":[{"fold":["s45","s40","s35","s30","s25","s20","s15"],"as":["series","value"]}],
   "mark":{"type":"line","color":"#000","strokeWidth":1.3},
   "encoding":{
    "x":{"field":"x","type":"quantitative","scale":{"domain":[0,5000],"nice":false,"zero":false},
         "axis":{"orient":"bottom","values":[0,1000,2000,3000,4000,5000],"format":"d","title":"sample","tickSize":-7,"labelPadding":17,"titleY":33,"titleBaseline":"middle"}},
    "y":{"field":"value","type":"quantitative","scale":{"domain":[0,50],"nice":false,"zero":false},
         "axis":{"orient":"left","values":[0,5,10,15,20,25,30,35,40,45,50],"title":"justapoxed signals","tickSize":-7,"labelPadding":13,"titleX":-39,"titleY":308,"titleBaseline":"middle"}},
    "detail":{"field":"series"}
   }
  },
  {
   "data":{"name":"bands"},
   "mark":{"type":"area","color":"#000","opacity":1},
   "encoding":{
    "x":{"field":"x","type":"quantitative","axis":null},
    "y":{"field":"lo5","type":"quantitative","axis":null},
    "y2":{"field":"hi5"}
   }
  },
  {
   "data":{"name":"bands"},
   "mark":{"type":"area","color":"#000","opacity":0.75},
   "encoding":{
    "x":{"field":"x","type":"quantitative","axis":null},
    "y":{"field":"lo10","type":"quantitative","axis":null},
    "y2":{"field":"hi10"}
   }
  },
  {
   "data":{"name":"noisy"},
   "transform":[{"fold":["s10","s05"],"as":["series","value"]}],
   "mark":{"type":"line","color":"#000"},
   "encoding":{
    "x":{"field":"x","type":"quantitative","scale":{"domain":[0,5000],"nice":false,"zero":false},
         "axis":{"orient":"top","values":[1000,2000,3000,4000],"labels":false,"title":null,"tickSize":-7}},
    "y":{"field":"value","type":"quantitative","scale":{"domain":[0,50],"nice":false,"zero":false},
         "axis":{"orient":"right","values":[5,10,15,20,25,30,35,40,45],"labels":false,"tickSize":-7,"title":"a)","titleAngle":0,"titleX":20,"titleY":304,"titleAlign":"center","titleBaseline":"middle"}},
    "detail":{"field":"series"},
    "strokeWidth":{"field":"series","type":"nominal","scale":{"domain":["s10","s05"],"range":[1.3,1.6]},"legend":null}
   }
  },
  {
   "data":{"values":[{}]},
   "mark":{"type":"text","text":"D=1.5, n=1","align":"left","baseline":"middle"},
   "encoding":{"x":{"datum":2839,"type":"quantitative","axis":null},"y":{"datum":48.2,"type":"quantitative","axis":null}}
  },
  {
   "data":{"values":[{}]},
   "mark":{"type":"text","text":"D=2, n=0","align":"left","baseline":"middle"},
   "encoding":{"x":{"datum":786,"type":"quantitative","axis":null},"y":{"datum":1.86,"type":"quantitative","axis":null}}
  }
 ],
 "resolve":{"axis":{"x":"independent","y":"independent"}}
},
{
 "width":416,"height":617,
 "title":{"text":"Length ratio of filtered stochastic signals","anchor":"middle","frame":"group","baseline":"alphabetic","offset":-7},
 "layer":[
  {
   "data":{"name":"curves"},
   "transform":[{"fold":["A"],"as":["c","y"]}],
   "mark":{"type":"line","color":"#000","strokeWidth":1.2,"clip":true},
   "encoding":{
    "x":{"field":"x","type":"quantitative","scale":{"type":"log","domain":[0.0002,0.5],"nice":false},
         "axis":{"orient":"bottom","values":[0.001,0.01,0.1],"labelExpr":"datum.value < 0.005 ? '10⁻³' : datum.value < 0.05 ? '10⁻²' : '10⁻¹'","title":"gauge (τ)","tickSize":-7,"labelPadding":22,"titleY":40,"titleBaseline":"middle"}},
    "y":{"field":"y","type":"quantitative","scale":{"type":"log","domain":[0.03,2],"nice":false},
         "axis":{"orient":"left","values":[0.1,1],"labelExpr":"datum.value > 0.5 ? '10⁰' : '10⁻¹'","title":"Ω/G","tickSize":-7,"labelPadding":12,"titleX":-19,"titleY":312,"titleBaseline":"middle"}},
    "detail":{"field":"c"}
   }
  },
  {
   "data":{"name":"curves"},
   "transform":[{"fold":["B","C","D","E","F","G","H","I"],"as":["c","y"]}],
   "mark":{"type":"line","color":"#000","strokeWidth":1.2,"clip":true},
   "encoding":{
    "x":{"field":"x","type":"quantitative","scale":{"type":"log","domain":[0.0002,0.5],"nice":false},
         "axis":{"orient":"top","values":[0.001,0.01,0.1],"labels":false,"title":null,"tickSize":-7}},
    "y":{"field":"y","type":"quantitative","scale":{"type":"log","domain":[0.03,2],"nice":false},
         "axis":{"orient":"right","values":[0.1,1],"labels":false,"tickSize":-7,"title":"b)","titleAngle":0,"titleX":20,"titleY":317,"titleAlign":"center","titleBaseline":"middle"}},
    "detail":{"field":"c"}
   }
  },
  {
   "data":{"values":[{}]},
   "mark":{"type":"text","text":"D=2, n=0","align":"left","baseline":"middle"},
   "encoding":{
    "x":{"datum":0.000573,"type":"quantitative","scale":{"type":"log","domain":[0.0002,0.5],"nice":false},
         "axis":{"orient":"bottom","values":[0.0003,0.0004,0.0005,0.0006,0.0007,0.0008,0.0009,0.002,0.003,0.004,0.005,0.006,0.007,0.008,0.009,0.02,0.03,0.04,0.05,0.06,0.07,0.08,0.09,0.2,0.3,0.4],"labels":false,"title":null,"tickSize":-4}},
    "y":{"datum":1.2,"type":"quantitative","scale":{"type":"log","domain":[0.03,2],"nice":false},
         "axis":{"orient":"left","values":[0.04,0.05,0.06,0.07,0.08,0.09,0.2,0.3,0.4,0.5,0.6,0.7,0.8,0.9],"labels":false,"title":null,"tickSize":-4}}
   }
  },
  {
   "data":{"values":[{}]},
   "mark":{"type":"text","text":"D=1.5, n=1","align":"left","baseline":"middle"},
   "encoding":{
    "x":{"datum":0.000583,"type":"quantitative","scale":{"type":"log","domain":[0.0002,0.5],"nice":false},
         "axis":{"orient":"top","values":[0.0003,0.0004,0.0005,0.0006,0.0007,0.0008,0.0009,0.002,0.003,0.004,0.005,0.006,0.007,0.008,0.009,0.02,0.03,0.04,0.05,0.06,0.07,0.08,0.09,0.2,0.3,0.4],"labels":false,"title":null,"tickSize":-4}},
    "y":{"datum":0.0422,"type":"quantitative","scale":{"type":"log","domain":[0.03,2],"nice":false},
         "axis":{"orient":"right","values":[0.04,0.05,0.06,0.07,0.08,0.09,0.2,0.3,0.4,0.5,0.6,0.7,0.8,0.9],"labels":false,"title":null,"tickSize":-4}}
   }
  }
 ],
 "resolve":{"axis":{"x":"independent","y":"independent"}}
}
]
}
